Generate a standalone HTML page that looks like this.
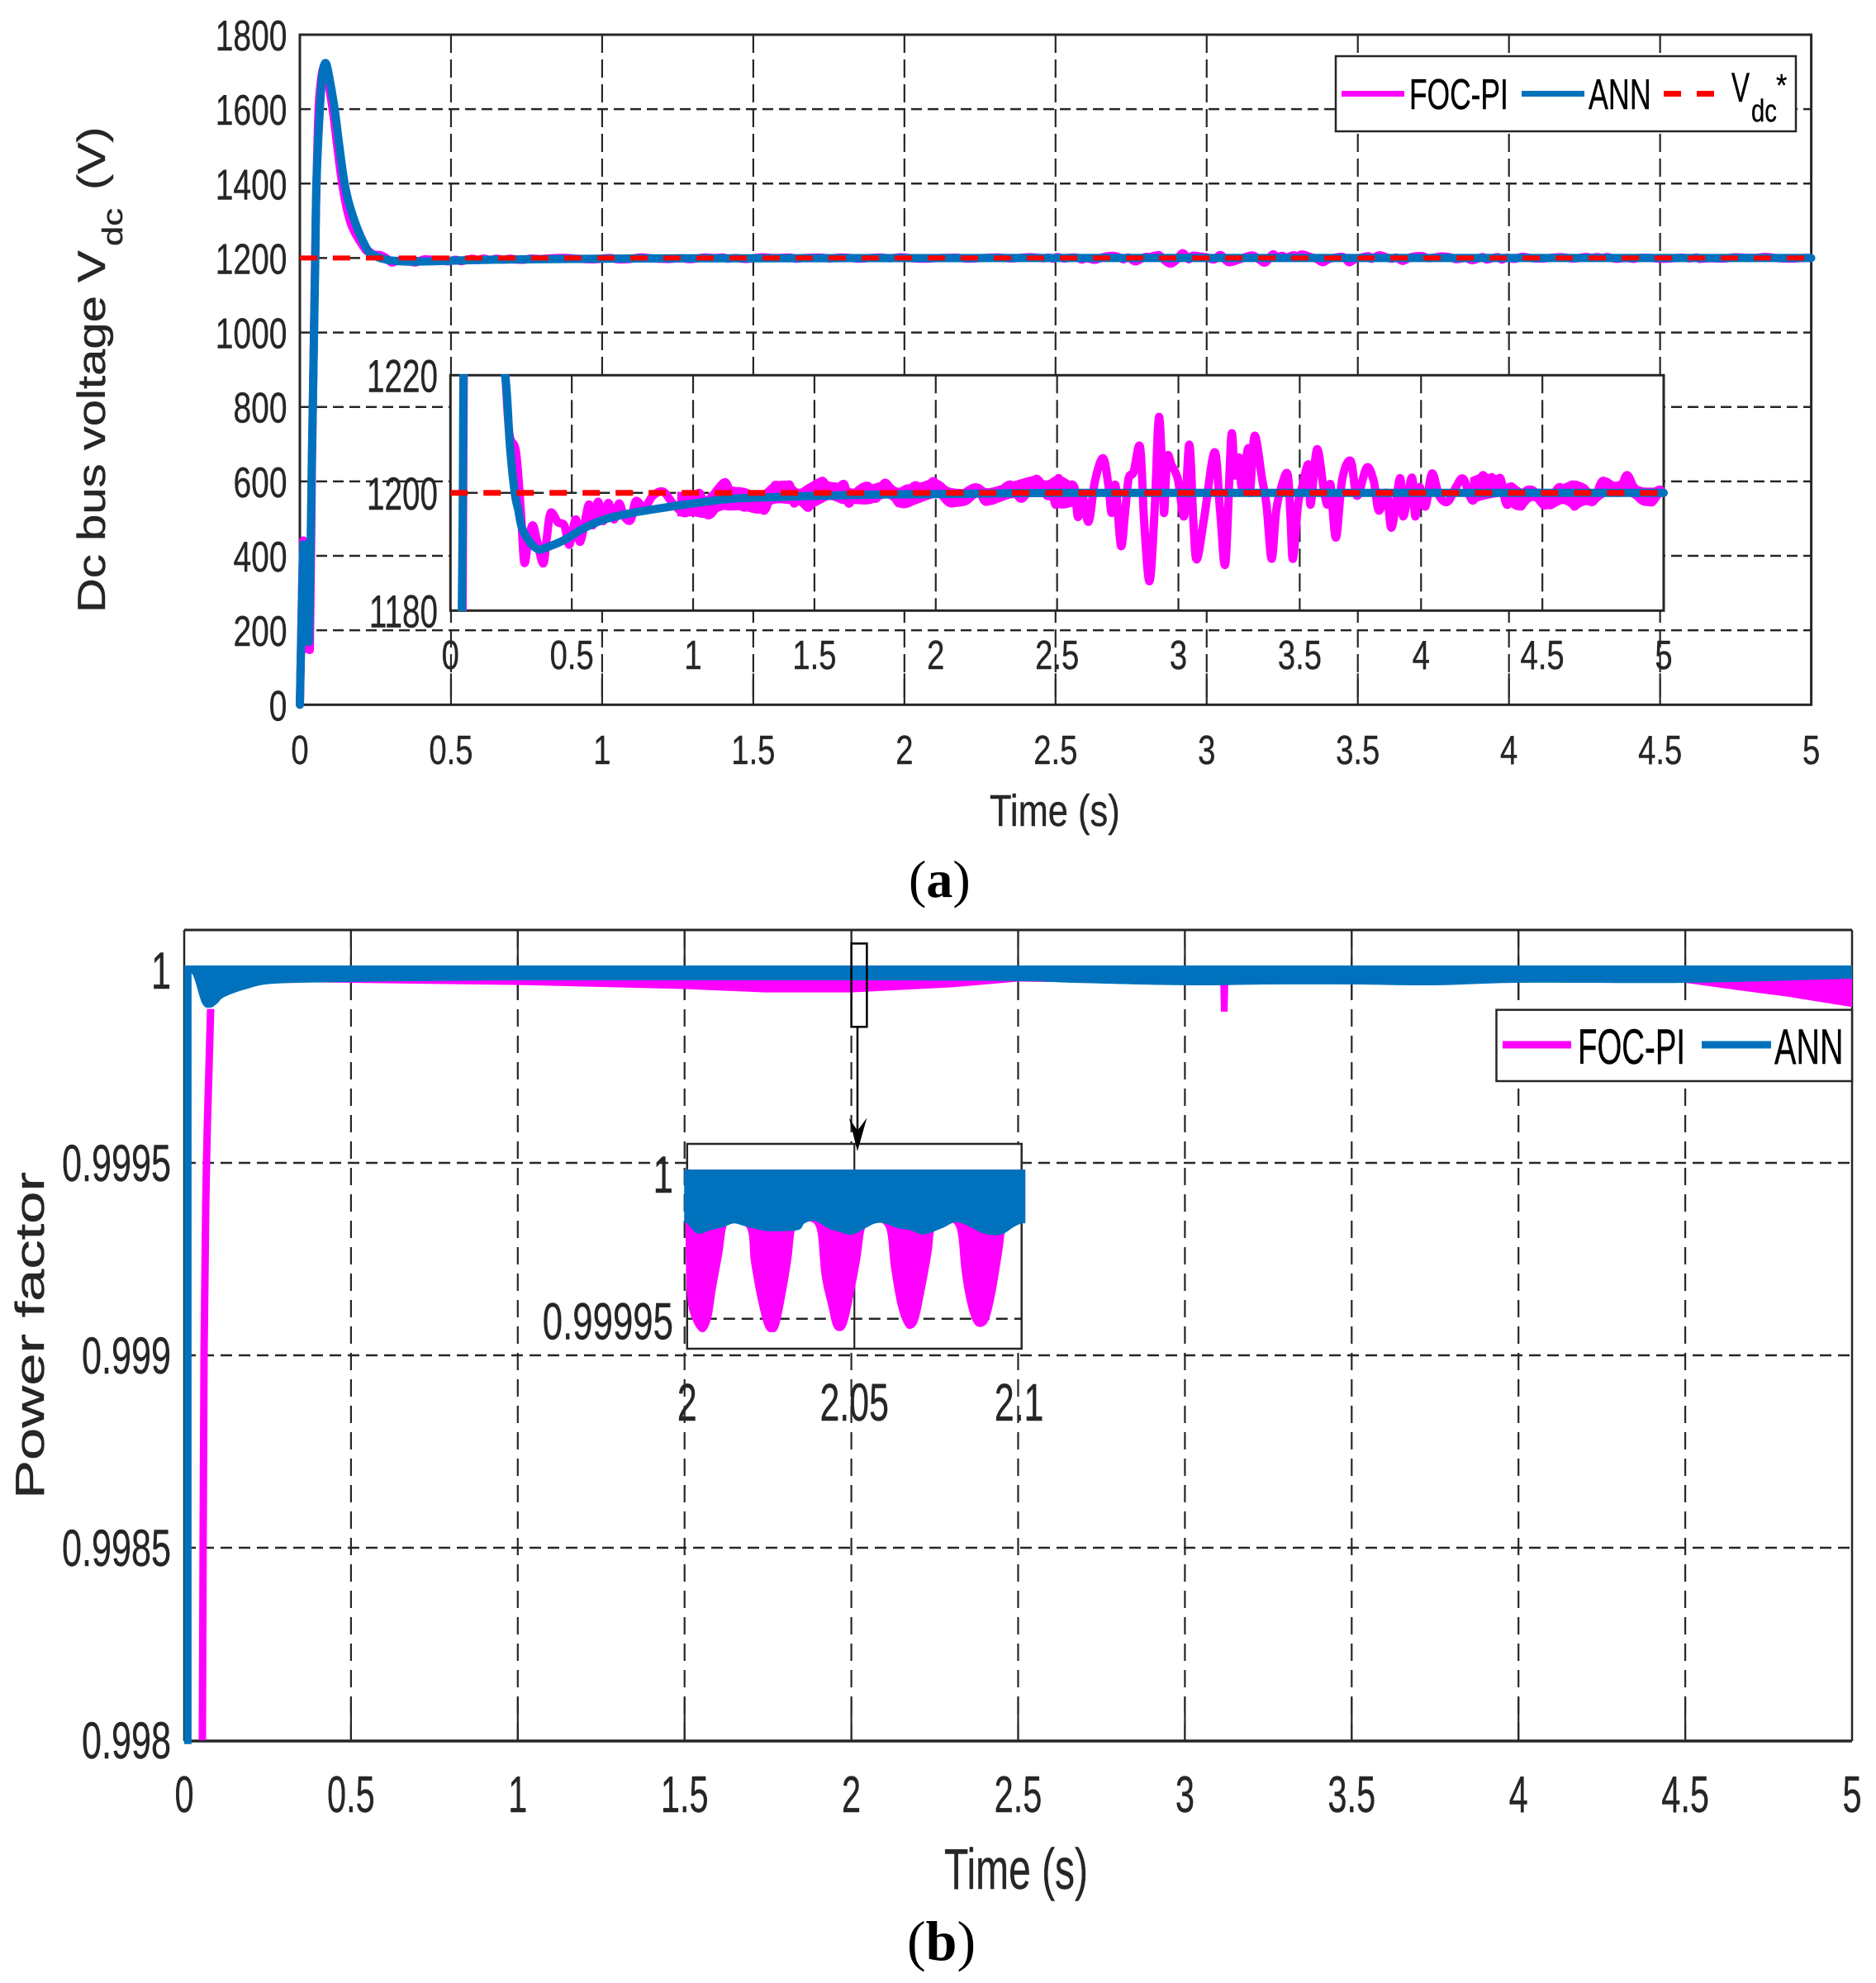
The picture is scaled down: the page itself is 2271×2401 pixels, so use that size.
<!DOCTYPE html>
<html lang="en">
<head>
<meta charset="utf-8">
<title>Dc bus voltage and power factor comparison</title>
<style>
html,body{margin:0;padding:0;background:#fff;overflow:hidden}
svg{display:block}
text{font-family:"Liberation Sans",Arial,sans-serif;fill:#262626;stroke:#262626;stroke-width:0.4}
.serif{font-family:"Liberation Serif","Times New Roman",serif;fill:#000;stroke:none}
</style>
</head>
<body>
<svg id="fig" xmlns="http://www.w3.org/2000/svg" width="2271" height="2401" viewBox="0 0 2271 2401">
<rect x="0" y="0" width="2271" height="2401" fill="#fff"/>
<defs>
<clipPath id="insetAClip"><rect x="500" y="453" width="1530" height="287"/></clipPath>
</defs>
<g id="chartA"></g>
<g id="chartAInset"></g>
<g>
<rect x="1617" y="68" width="557" height="91" fill="#fff" stroke="#262626" stroke-width="2.5"/>
<line x1="1624" y1="113.5" x2="1700" y2="113.5" stroke="#FF00FF" stroke-width="7"/>
<text transform="translate(1706,132) scale(0.68,1)" font-size="52" style="fill:#000;stroke:#000">FOC-PI</text>
<line x1="1842" y1="113.5" x2="1918" y2="113.5" stroke="#0072BD" stroke-width="7"/>
<text transform="translate(1923,132) scale(0.69,1)" font-size="52" style="fill:#000;stroke:#000">ANN</text>
<line x1="2014" y1="113.5" x2="2075" y2="113.5" stroke="#FF0000" stroke-width="7" stroke-dasharray="21 19"/>
<text transform="translate(2096,123) scale(0.66,1)" font-size="50" style="fill:#000;stroke:#000">V</text>
<text transform="translate(2120,147) scale(0.77,1)" font-size="38" style="fill:#000;stroke:#000">dc</text>
<text transform="translate(2150,116) scale(0.9,1)" font-size="38" style="fill:#000;stroke:#000">*</text>
</g>
<text transform="translate(127,742) rotate(-90) scale(1.235,1)" font-size="47">Dc bus voltage V</text>
<text transform="translate(148,298) rotate(-90) scale(1.28,1)" font-size="34">dc</text>
<text transform="translate(127,230) rotate(-90) scale(1.22,1)" font-size="47">(V)</text>
<text transform="translate(1198,1000) scale(0.805,1)" font-size="54">Time (s)</text>
<text class="serif" x="1100" y="1086" font-size="64">(<tspan font-weight="bold">a</tspan>)</text>

<g id="chartB"></g>
<g>
<rect x="1030.6" y="1142.4" width="18.8" height="100.9" fill="none" stroke="#000" stroke-width="2.5"/>
</g>
<g id="chartBInset"></g>
<g>
<line x1="1038" y1="1243" x2="1038" y2="1375" stroke="#000" stroke-width="2.5"/>
<polygon points="1038,1394 1027.8,1353.5 1038,1369 1049.4,1353.5" fill="#000"/>
</g>
<g>
<rect x="1811.5" y="1222.7" width="430.5" height="86.3" fill="#fff" stroke="#262626" stroke-width="2.5"/>
<line x1="1819" y1="1265" x2="1902" y2="1265" stroke="#FF00FF" stroke-width="9"/>
<text transform="translate(1910,1288) scale(0.64,1)" font-size="60" style="fill:#000;stroke:#000">FOC-PI</text>
<line x1="2060" y1="1265" x2="2144" y2="1265" stroke="#0072BD" stroke-width="9"/>
<text transform="translate(2148,1288) scale(0.66,1)" font-size="60" style="fill:#000;stroke:#000">ANN</text>
</g>
<text transform="translate(53,1815) rotate(-90) scale(1.44,1)" font-size="49">Power factor</text>
<text transform="translate(1143,2287) scale(0.685,1)" font-size="70">Time (s)</text>
<text class="serif" x="1098" y="2373" font-size="68">(<tspan font-weight="bold">b</tspan>)</text>
</svg>
<script>
// ---------- Chart (a): Dc bus voltage ----------
const voltXTicks = [0,0.5,1,1.5,2,2.5,3,3.5,4,4.5,5];
const voltXTickLabels = ['0','0.5','1','1.5','2','2.5','3','3.5','4','4.5','5'];
const voltYTicks = [0,200,400,600,800,1000,1200,1400,1600,1800];
const voltYTickLabels = ['0','200','400','600','800','1000','1200','1400','1600','1800'];
const voltInsetYTicks = [1180,1200,1220];
const voltInsetYTickLabels = ['1180','1200','1220'];
const voltReference = 1200;

const annTime = [0,0.006,0.012,0.016,0.02,0.024,0.028,0.03,0.038,0.04,0.046,0.051,0.055,0.066,0.075,0.085,0.095,0.115,0.148,0.183,0.225,0.245,0.265,0.28,0.295,0.33,0.364,0.4,0.469,0.55,0.642,0.75,0.867,1.0,1.16,1.35,1.51,1.75,2.0,2.5,3.0,4.0,5.0];
const annVolts = [0,240,430,180,430,170,430,170,560,673,950,1200,1400,1600,1695,1724,1695,1600,1400,1295,1220,1208,1200,1197,1194,1191.5,1190.4,1190.8,1192,1194,1195.6,1196.6,1197.4,1198.2,1199,1199.3,1199.5,1199.7,1199.8,1200,1200,1200,1200];

const focTime = [0,0.006,0.012,0.016,0.02,0.024,0.028,0.033,0.04,0.05,0.055,0.062,0.072,0.082,0.092,0.11,0.14,0.17,0.215,0.226,0.243,0.27,0.29,0.304,0.321,0.339,0.356,0.382,0.396,0.413,0.443,0.469,0.49,0.516,0.535,0.57,0.587,0.608,0.629,0.651,0.674,0.695,0.716,0.743,0.764,0.799,0.834,0.877,0.921,0.973,1.025,1.051,1.086,1.129,1.164,1.216,1.259,1.294,1.337,1.372,1.398,1.416,1.442,1.476,1.529,1.563,1.598,1.624,1.641,1.668,1.72,1.754,1.789,1.824,1.85,1.885,1.919,1.954,1.989,2.024,2.067,2.119,2.171,2.206,2.258,2.31,2.354,2.414,2.459,2.477,2.494,2.506,2.529,2.546,2.572,2.586,2.604,2.63,2.656,2.689,2.711,2.725,2.741,2.763,2.781,2.795,2.815,2.842,2.859,2.881,2.902,2.92,2.937,2.942,2.954,2.972,2.998,3.024,3.045,3.062,3.076,3.107,3.149,3.172,3.194,3.218,3.232,3.25,3.262,3.288,3.295,3.314,3.345,3.363,3.384,3.403,3.424,3.45,3.462,3.472,3.493,3.51,3.536,3.545,3.571,3.597,3.614,3.627,3.649,3.675,3.71,3.736,3.776,3.805,3.826,3.858,3.879,3.913,3.927,3.962,3.976,3.993,4.018,4.045,4.075,4.11,4.144,4.174,4.214,4.254,4.274,4.292,4.309,4.327,4.353,4.388,4.413,4.431,4.466,4.492,4.518,4.57,4.596,4.622,4.631,4.665,4.709,4.747,4.787,4.822,4.851,4.891,4.935,4.978,4.999];
const focVolts = [0,250,440,150,430,150,430,150,640,1180,1400,1600,1690,1715,1680,1590,1400,1290,1225,1220,1210,1207,1197,1188.2,1192,1194.5,1192,1188,1192,1196.6,1195,1194.5,1191.2,1195.5,1191.7,1198,1194.5,1198.5,1195.2,1198.3,1195.5,1198.2,1196,1195.4,1198.6,1197.5,1199.5,1200.2,1198,1196.6,1200,1196.5,1197,1201.8,1199,1197.5,1199.5,1197,1201.3,1200,1201.4,1198.2,1200,1197.5,1202,1200,1200.8,1201.4,1198.2,1200,1201.2,1199,1201.7,1200,1198.2,1200,1201.3,1199.5,1202,1199.7,1198.2,1200,1200.9,1198.5,1200,1201.4,1199,1202.4,1199.5,1201.2,1198,1202.5,1198.5,1201,1200.9,1195.9,1199.5,1195.1,1202,1205.9,1201.5,1196.6,1201.3,1191,1197,1202.5,1203.5,1207.8,1195,1185,1197,1212.9,1200,1196.9,1206,1204.7,1202.3,1196.1,1208.2,1195,1188.7,1196,1206.9,1197,1188.1,1209.7,1203,1206,1201,1207.6,1200,1209.7,1202.3,1198,1188.8,1197,1201,1203.2,1196,1188.8,1198,1201,1204.8,1198,1207.4,1201.2,1198,1201.4,1192.4,1202.3,1205.4,1199.5,1204.3,1202,1197,1200,1194.1,1202.5,1196,1202.6,1196,1201,1197.7,1203.3,1199.5,1198.5,1201,1202.4,1198.7,1203,1200.5,1202.7,1200.5,1202.5,1198,1200,1197.7,1200.3,1200.3,1198.5,1198,1201,1199,1201.4,1197.7,1199.5,1198.5,1202,1200.6,1200.8,1203,1199.5,1198.5,1200.5,1200];

// FOC-PI ripple envelope (high-frequency noise that reads as a solid band)
const focRippleTimeEarly = [0.935,1.003,1.049,1.117,1.151,1.207,1.276,1.332,1.395,1.434,1.468,1.525,1.565,1.616,1.661,1.73,1.798,1.843,1.877,1.922,1.99,2.025,2.059,2.127,2.178,2.218,2.314,2.411,2.456,2.507,2.569];
const focRippleUpperEarly = [1200.2,1200,1199.3,1202.3,1201.2,1200.9,1200.2,1201.8,1202,1200.7,1201.4,1202.6,1201.9,1201.6,1200.7,1201.4,1202,1200.9,1201.4,1201.6,1202.4,1201.9,1200.9,1200.7,1201.5,1200.8,1201.9,1202.9,1202.1,1203,1201.6];
const focRippleLowerEarly = [1196,1196,1195.8,1197,1197,1197,1196.5,1198.1,1198.1,1197.9,1197,1198.1,1198.8,1198.1,1198.1,1198.1,1199.1,1197.7,1197.4,1198.1,1199.1,1199.1,1197.7,1197.9,1199.3,1197.9,1199.1,1199.3,1199.1,1197.4,1197.7];
const focRippleTimeLate = [4.2025,4.255,4.289,4.324,4.347,4.376,4.417,4.457,4.492,4.533,4.585,4.631,4.677,4.712,4.758,4.805,4.863,4.897,4.955,4.99,5.0];
const focRippleUpperLate = [1202.6,1203.4,1203.1,1202.9,1201.6,1201.8,1200.7,1200.8,1200.7,1200.5,1201.5,1202.1,1201.5,1200.5,1202.6,1201.9,1203.1,1201.2,1200.9,1201.2,1200.5];
const focRippleLowerLate = [1198.1,1198.8,1199.1,1199.3,1199.1,1197.4,1197.1,1198.6,1197.9,1197.2,1198.1,1197.2,1197.9,1197.9,1199.3,1199.3,1199.3,1198.4,1197.7,1199.3,1199.5];

// ---------- Chart (b): Power factor ----------
const pfXTicks = [0,0.5,1,1.5,2,2.5,3,3.5,4,4.5,5];
const pfXTickLabels = ['0','0.5','1','1.5','2','2.5','3','3.5','4','4.5','5'];
const pfYTicks = [0.998,0.9985,0.999,0.9995,1];
const pfYTickLabels = ['0.998','0.9985','0.999','0.9995','1'];
const pfBandTop = 1.0000129;

const pfAnnRiseTime = [0.011,0.011];
const pfAnnRiseValue = [0.99799,1];
const pfAnnTime = [0,0.025,0.054,0.079,0.099,0.121,0.191,0.272,0.5,0.686,1.03,1.5,2,2.5,2.67,3,3.25,3.5,3.75,4,4.5,5];
const pfAnnLow = [0.99999,0.9999893,0.9999142,0.9999034,0.9999142,0.9999313,0.9999528,0.9999657,0.99997,0.9999721,0.9999742,0.9999742,0.9999742,0.9999721,0.9999678,0.9999614,0.9999635,0.9999635,0.9999614,0.9999678,0.9999678,0.9999785];

const pfFocRiseTime = [0.0545,0.0594,0.0669,0.0792];
const pfFocRiseValue = [0.998,0.999,0.9995,0.9999];
const pfFocTime = [0.08,0.1,0.19,0.3,0.5,1.0,1.5,1.74,2.0,2.3,2.5,3.1,3.106,3.108,3.128,3.13,3.5,4.4,4.5,4.66,4.81,4.995,5.0];
const pfFocLow = [0.9999034,0.99994,0.99996,0.99997,0.9999678,0.9999623,0.9999517,0.9999429,0.9999429,0.999956,0.999971,0.999965,0.999965,0.9998927,0.9998927,0.999965,0.999965,0.9999721,0.9999678,0.9999485,0.9999313,0.9999056,0.9999056];

const pfInsetXTicks = [2,2.05,2.1];
const pfInsetXTickLabels = ['2','2.05','2.1'];
const pfInsetYTicks = [0.99995,1];
const pfInsetYTickLabels = ['0.99995','1'];
const pfInsetTop = 1.0000017;
const pfInsetFocTime = [1.9995,2.0,2.002,2.0048,2.0071,2.0086,2.0106,2.0116,2.013,2.0179,2.0191,2.0211,2.0232,2.0252,2.0274,2.0297,2.0312,2.0324,2.0353,2.0387,2.0402,2.0422,2.0437,2.0457,2.0477,2.0497,2.0518,2.0532,2.0558,2.0595,2.061,2.063,2.065,2.0668,2.069,2.0711,2.0731,2.0741,2.0771,2.0806,2.0821,2.0837,2.0857,2.088,2.0902,2.0922,2.0942,2.0953,2.0978,2.1011];
const pfInsetFocValue = [0.9999813,0.9999579,0.9999486,0.9999453,0.9999497,0.9999603,0.9999731,0.9999813,0.9999836,0.9999813,0.9999696,0.9999568,0.9999474,0.9999453,0.9999474,0.9999603,0.9999708,0.9999813,0.9999836,0.9999813,0.999965,0.9999544,0.9999474,0.9999457,0.999948,0.9999579,0.9999708,0.9999813,0.9999836,0.9999813,0.9999673,0.9999544,0.999948,0.9999465,0.9999492,0.9999603,0.9999731,0.9999813,0.9999836,0.9999813,0.9999662,0.9999556,0.9999486,0.9999472,0.9999497,0.9999591,0.9999731,0.9999813,0.9999836,0.9999836];
const pfInsetAnnTime = [1.9991,2.0,2.0031,2.0071,2.011,2.014,2.018,2.0221,2.0251,2.0331,2.0351,2.0381,2.0422,2.0449,2.0492,2.0532,2.0562,2.0592,2.0632,2.0667,2.0707,2.0761,2.0801,2.0836,2.0887,2.0937,2.0977,2.1,2.1011];
const pfInsetAnnLow = [0.999983,0.999983,0.9999795,0.9999807,0.9999818,0.999983,0.9999818,0.9999807,0.9999803,0.9999807,0.999983,0.9999839,0.9999813,0.9999803,0.9999791,0.9999813,0.999983,0.999983,0.9999813,0.9999807,0.9999792,0.9999813,0.9999834,0.9999824,0.9999795,0.9999791,0.9999818,0.999983,0.999983];

// ---------- Axis functions ----------
const axA = {x0:363, x1:2192.6, y0:853.3, y1:42};
function xA(t){ return axA.x0 + (axA.x1-axA.x0)*t/5; }
function yA(v){ return axA.y0 + (axA.y1-axA.y0)*v/1800; }
const axAi = {x0:545.3, x1:2014, y0:739.3, y1:454.3};
function xAi(t){ return axAi.x0 + (axAi.x1-axAi.x0)*t/5; }
function yAi(v){ return axAi.y0 + (axAi.y1-axAi.y0)*(Math.min(1224,Math.max(1176,v))-1180)/40; }
const axB = {x0:223, x1:2242, y0:2108, top:1126};
function xB(t){ return axB.x0 + (axB.x1-axB.x0)*t/5; }
function yB(p){ return 1175 + (1-p)*466000; }
const axBi = {x0:831.8, x1:1236.7, y0:1633, y1:1385};
function xBi(t){ return axBi.x0 + (axBi.x1-axBi.x0)*(t-2)/0.1; }
function yBi(p){ return 1422 + (1-p)*3494000; }

// ---------- Drawing helpers ----------
const NS = 'http://www.w3.org/2000/svg';
function mk(parent, tag, attrs, name){
  const el = document.createElementNS(NS, tag);
  for (const k in attrs) el.setAttribute(k, attrs[k]);
  
  
  parent.appendChild(el);
  return el;
}
function seg(parent, x1, y1, x2, y2, w, dash, name){
  const a = {x1:x1, y1:y1, x2:x2, y2:y2, stroke:'#262626', 'stroke-width':w};
  if (dash) a['stroke-dasharray'] = dash;
  return mk(parent, 'line', a, name);
}
function label(parent, x, y, str, size, sx, anchor, name){
  const el = mk(parent, 'text', {transform:'translate('+x+','+y+') scale('+sx+',1)', 'font-size':size, 'text-anchor':anchor}, name);
  el.textContent = str;
  return el;
}
function smoothSegs(pts){
  let d = '';
  for (let i=0;i<pts.length-1;i++){
    const p0 = pts[i-1]||pts[i], p1 = pts[i], p2 = pts[i+1], p3 = pts[i+2]||p2;
    const c1x = p1[0]+(p2[0]-p0[0])/6, c1y = p1[1]+(p2[1]-p0[1])/6;
    const c2x = p2[0]-(p3[0]-p1[0])/6, c2y = p2[1]-(p3[1]-p1[1])/6;
    d += 'C'+c1x.toFixed(1)+' '+c1y.toFixed(1)+' '+c2x.toFixed(1)+' '+c2y.toFixed(1)+' '+p2[0].toFixed(1)+' '+p2[1].toFixed(1);
  }
  return d;
}
function curve(parent, ts, vs, fx, fy, color, w, name, extra){
  const pts = ts.map(function(t,i){ return [fx(t), fy(vs[i])]; });
  const a = {d:'M'+pts[0][0].toFixed(1)+' '+pts[0][1].toFixed(1)+smoothSegs(pts), fill:'none', stroke:color, 'stroke-width':w, 'stroke-linejoin':'round', 'stroke-linecap':'round'};
  if (extra) for (const k in extra) a[k] = extra[k];
  return mk(parent, 'path', a, name);
}
function band(parent, ts, ups, lows, fx, fy, color, name, smooth){
  const upper = ts.map(function(t,i){ return [fx(t), fy(ups[i])]; });
  const lower = ts.map(function(t,i){ return [fx(t), fy(lows[i])]; }).reverse();
  let d = 'M'+upper[0][0].toFixed(1)+' '+upper[0][1].toFixed(1);
  if (smooth){
    d += smoothSegs(upper)+'L'+lower[0][0].toFixed(1)+' '+lower[0][1].toFixed(1)+smoothSegs(lower);
  } else {
    upper.slice(1).concat(lower).forEach(function(p){ d += 'L'+p[0].toFixed(1)+' '+p[1].toFixed(1); });
  }
  return mk(parent, 'path', {d:d+'Z', fill:color}, name);
}
function flat(ts, v){ return ts.map(function(){ return v; }); }

const C_FOC = '#FF00FF', C_ANN = '#0072BD', C_REF = '#FF0000';

// ---------- Draw chart (a) ----------
const gA = document.getElementById('chartA');
mk(gA, 'rect', {x:axA.x0, y:axA.y1, width:axA.x1-axA.x0, height:axA.y0-axA.y1, fill:'#fff'}, 'plot-area-a');
voltYTicks.forEach(function(v,i){
  if (v>0 && v<1800) seg(gA, axA.x0, yA(v), axA.x1, yA(v), 2.5, '13 7', 'grid-line-y-a');
  label(gA, 347.5, yA(v)+19, voltYTickLabels[i], 52, 0.75, 'end', 'y-tick-label-a');
});
voltXTicks.forEach(function(t,i){
  if (t>0 && t<5){
    seg(gA, xA(t), axA.y1, xA(t), axA.y0, 2.2, '22 8', 'grid-line-x-a');
    seg(gA, xA(t), axA.y0-38, xA(t), axA.y0, 2.2, null, 'x-tick-a');
  }
  label(gA, xA(t), 925, voltXTickLabels[i], 49, 0.78, 'middle', 'x-tick-label-a');
});
mk(gA, 'rect', {x:axA.x0, y:axA.y1, width:axA.x1-axA.x0, height:axA.y0-axA.y1, fill:'none', stroke:'#262626', 'stroke-width':3}, 'axes-box-a');
curve(gA, focTime, focVolts, xA, yA, C_FOC, 10, 'series-foc-pi-a');
band(gA, focRippleTimeEarly, focRippleUpperEarly, focRippleLowerEarly, xA, yA, C_FOC, 'series-foc-pi-ripple-early-a', true);
band(gA, focRippleTimeLate, focRippleUpperLate, focRippleLowerLate, xA, yA, C_FOC, 'series-foc-pi-ripple-late-a', true);
curve(gA, annTime, annVolts, xA, yA, C_ANN, 10, 'series-ann-a');
curve(gA, [0,5], [voltReference,voltReference], xA, yA, C_REF, 6, 'series-reference-a', {'stroke-dasharray':'21 19','stroke-linecap':'butt'});

// ---------- Draw inset of chart (a) ----------
const gAi = document.getElementById('chartAInset');
mk(gAi, 'rect', {x:axAi.x0, y:axAi.y1, width:axAi.x1-axAi.x0, height:axAi.y0-axAi.y1, fill:'#fff'}, 'inset-area-a');
voltInsetYTicks.forEach(function(v,i){
  if (v===1200) seg(gAi, axAi.x0, yAi(v), axAi.x1, yAi(v), 2.5, '13 7', 'inset-grid-line-y-a');
  label(gAi, 530, yAi(v)+20, voltInsetYTickLabels[i], 56, 0.69, 'end', 'inset-y-tick-label-a');
});
voltXTicks.forEach(function(t,i){
  if (t>0 && t<5) seg(gAi, xAi(t), axAi.y1, xAi(t), axAi.y0, 2.2, '22 8', 'inset-grid-line-x-a');
  label(gAi, xAi(t), 810, voltXTickLabels[i], 49, 0.78, 'middle', 'inset-x-tick-label-a');
});
mk(gAi, 'rect', {x:axAi.x0, y:axAi.y1, width:axAi.x1-axAi.x0, height:axAi.y0-axAi.y1, fill:'none', stroke:'#262626', 'stroke-width':3}, 'inset-box-a');
const gAiClip = mk(gAi, 'g', {'clip-path':'url(#insetAClip)'}, 'inset-series-a');
curve(gAiClip, focTime, focVolts, xAi, yAi, C_FOC, 10, 'inset-series-foc-pi-a');
band(gAiClip, focRippleTimeEarly, focRippleUpperEarly, focRippleLowerEarly, xAi, yAi, C_FOC, 'inset-foc-pi-ripple-early-a', true);
band(gAiClip, focRippleTimeLate, focRippleUpperLate, focRippleLowerLate, xAi, yAi, C_FOC, 'inset-foc-pi-ripple-late-a', true);
curve(gAiClip, annTime, annVolts, xAi, yAi, C_ANN, 10, 'inset-series-ann-a');
curve(gAiClip, [0,5], [voltReference,voltReference], xAi, yAi, C_REF, 7, 'inset-series-reference-a', {'stroke-dasharray':'21 19','stroke-linecap':'butt'});

// ---------- Draw chart (b) ----------
const gB = document.getElementById('chartB');
mk(gB, 'rect', {x:axB.x0, y:axB.top, width:axB.x1-axB.x0, height:axB.y0-axB.top, fill:'#fff'}, 'plot-area-b');
pfYTicks.forEach(function(p,i){
  if (p>0.998 && p<1) seg(gB, axB.x0, yB(p), axB.x1, yB(p), 2.5, '14 8', 'grid-line-y-b');
  label(gB, 207, yB(p)+22, pfYTickLabels[i], 63, 0.685, 'end', 'y-tick-label-b');
});
pfXTicks.forEach(function(t,i){
  if (t>0 && t<5){
    seg(gB, xB(t), axB.top, xB(t), axB.y0, 2.2, '21 11', 'grid-line-x-b');
    seg(gB, xB(t), axB.top, xB(t), axB.top+84, 2.2, null, 'x-tick-top-b');
    seg(gB, xB(t), axB.y0-52, xB(t), axB.y0, 2.2, null, 'x-tick-b');
  }
  label(gB, xB(t), 2194, pfXTickLabels[i], 62, 0.67, 'middle', 'x-tick-label-b');
});
seg(gB, axB.x0, axB.top, axB.x1, axB.top, 3, null, 'axis-top-b');
seg(gB, axB.x0, axB.y0, axB.x1, axB.y0, 3.5, null, 'axis-bottom-b');
seg(gB, axB.x0, axB.top, axB.x0, axB.y0, 2.5, null, 'axis-left-b');
seg(gB, axB.x1, axB.top, axB.x1, axB.y0, 2.5, null, 'axis-right-b');
curve(gB, pfFocRiseTime, pfFocRiseValue, xB, yB, C_FOC, 9, 'series-foc-pi-rise-b', {'stroke-linecap':'butt'});
band(gB, pfFocTime, flat(pfFocTime,pfBandTop), pfFocLow, xB, yB, C_FOC, 'series-foc-pi-band-b', false);
curve(gB, pfAnnRiseTime, pfAnnRiseValue, xB, yB, C_ANN, 9, 'series-ann-rise-b', {'stroke-linecap':'butt'});
band(gB, pfAnnTime, flat(pfAnnTime,pfBandTop), pfAnnLow, xB, yB, C_ANN, 'series-ann-band-b', true);

// ---------- Draw inset of chart (b) ----------
const gBi = document.getElementById('chartBInset');
mk(gBi, 'rect', {x:axBi.x0, y:axBi.y1, width:axBi.x1-axBi.x0, height:axBi.y0-axBi.y1, fill:'#fff'}, 'inset-area-b');
pfInsetYTicks.forEach(function(p,i){
  if (p<1) seg(gBi, axBi.x0, yBi(p), axBi.x1, yBi(p), 2.5, '14 8', 'inset-grid-line-y-b');
  label(gBi, 815, yBi(p)+(p<1?25:22), pfInsetYTickLabels[i], 63, 0.695, 'end', 'inset-y-tick-label-b');
});
pfInsetXTicks.forEach(function(t,i){
  if (t>2 && t<2.1) seg(gBi, xBi(t), axBi.y1, xBi(t), axBi.y0, 2.2, null, 'inset-grid-line-x-b');
  label(gBi, xBi(t)-(i===2?3:0), 1720, pfInsetXTickLabels[i], 64, 0.67, 'middle', 'inset-x-tick-label-b');
});
mk(gBi, 'rect', {x:axBi.x0, y:axBi.y1, width:axBi.x1-axBi.x0, height:axBi.y0-axBi.y1, fill:'none', stroke:'#262626', 'stroke-width':2.5}, 'inset-box-b');
band(gBi, pfInsetFocTime, flat(pfInsetFocTime,pfInsetTop), pfInsetFocValue, xBi, yBi, C_FOC, 'inset-series-foc-pi-b', true);
band(gBi, pfInsetAnnTime, flat(pfInsetAnnTime,pfInsetTop), pfInsetAnnLow, xBi, yBi, C_ANN, 'inset-series-ann-b', true);
</script>
</body>
</html>
